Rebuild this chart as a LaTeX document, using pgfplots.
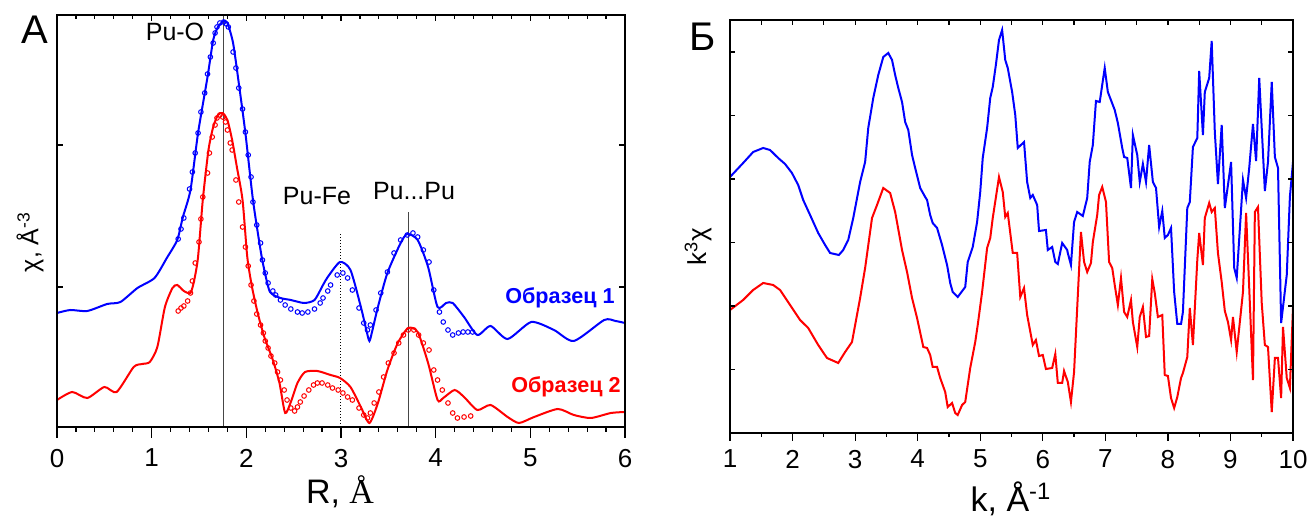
\documentclass[border=0pt]{standalone}
\usepackage{fontspec}
\setmainfont{Liberation Sans}
\newfontfamily\seriffont{Liberation Serif}
\usepackage{pgfplots}
\pgfplotsset{compat=1.18}
\definecolor{cblue}{RGB}{0,0,255}
\definecolor{cred}{RGB}{255,0,0}
\definecolor{vline}{RGB}{70,70,70}
\begin{document}
\begin{tikzpicture}
\useasboundingbox (0,0) rectangle (654.5pt,259pt);
% ---------------- Panel A ----------------
\begin{axis}[at={(28.5pt,45.5pt)}, anchor=south west, scale only axis,
  width=284pt, height=206pt, xmin=0, xmax=6, ymin=0, ymax=412,
  axis line style={line width=0.8pt},
  xtick={0,...,6}, minor x tick num=4, xtick pos=left, ytick=\empty,
  tick align=outside, major tick length=5.5pt, minor tick length=2.5pt,
  tick style={black, line width=0.6pt},
  /pgf/number format/assume math mode=true,
  xticklabel style={font=\fontsize{13}{13}\selectfont, yshift=-2pt},
  clip=false]
\addplot[vline, line width=0.6pt] coordinates {(1.76,0) (1.76,412)};
\addplot[vline, line width=0.6pt] coordinates {(3.71,0) (3.71,215)};
\addplot[black, line width=0.5pt, densely dotted] coordinates {(2.99,0) (2.99,194)};
\addplot[cblue, line width=1pt, smooth, tension=0.4] coordinates {
(0.00,114) (0.14,117) (0.32,116) (0.53,123) (0.67,125) (0.85,139) (1.03,149) (1.16,169) (1.27,187) (1.33,210) (1.41,237) (1.49,294) (1.59,350) (1.65,387) (1.70,400) (1.76,406) (1.80,404) (1.86,384) (1.92,344) (1.99,294) (2.07,227) (2.15,177) (2.19,157) (2.25,135) (2.36,129) (2.47,127) (2.61,124) (2.72,127) (2.81,142) (2.86,150) (2.99,165) (3.10,157) (3.21,120) (3.27,96) (3.30,86) (3.33,96) (3.39,120) (3.49,154) (3.63,184) (3.70,193) (3.81,187) (3.92,160) (4.02,120) (4.11,124) (4.18,124) (4.30,110) (4.44,92) (4.58,101) (4.76,88) (5.01,105) (5.25,97) (5.46,86) (5.78,107) (5.90,106) (6.00,104)};
\addplot[cred, line width=1pt, smooth, tension=0.4] coordinates {
(0.00,27) (0.16,35) (0.32,29) (0.50,40) (0.63,35) (0.81,60) (0.90,63) (0.98,65) (1.06,80) (1.14,120) (1.22,139) (1.27,142) (1.34,136) (1.41,134) (1.45,147) (1.49,170) (1.54,227) (1.60,277) (1.65,300) (1.70,312) (1.75,314) (1.80,307) (1.85,287) (1.90,260) (1.96,227) (2.01,170) (2.06,140) (2.12,114) (2.19,90) (2.28,67) (2.35,44) (2.41,14) (2.47,25) (2.54,44) (2.62,55) (2.75,56) (2.89,52) (2.99,49) (3.10,40) (3.21,20) (3.30,4) (3.39,24) (3.49,57) (3.60,84) (3.71,99) (3.81,95) (3.92,64) (4.02,27) (4.08,29) (4.20,37) (4.30,30) (4.44,17) (4.58,22) (4.76,10) (4.88,4) (5.04,10) (5.29,18) (5.46,12) (5.64,9) (5.85,14) (6.00,15)};
\addplot[cblue, only marks, mark=o, mark size=1.15pt, mark options={line width=0.5pt}] coordinates {
(1.28,188) (1.31,198) (1.34,209) (1.40,238) (1.43,255) (1.46,274) (1.49,294) (1.52,315) (1.56,334) (1.59,353) (1.62,370) (1.65,384) (1.67,394) (1.69,400) (1.72,404) (1.76,405) (1.79,403) (1.81,400) (1.86,375) (1.89,359) (1.92,339) (1.96,318) (1.99,295) (2.02,272) (2.05,250) (2.07,225) (2.11,202) (2.15,184) (2.17,167) (2.20,154) (2.23,144) (2.28,136) (2.31,132) (2.36,127) (2.41,122) (2.47,118) (2.54,115) (2.59,114) (2.65,115) (2.72,118) (2.78,124) (2.81,129) (2.86,136) (2.89,142) (2.96,152) (3.02,154) (3.07,149) (3.12,137) (3.19,119) (3.24,104) (3.28,97) (3.31,102) (3.37,117) (3.42,134) (3.49,155) (3.56,174) (3.63,187) (3.70,192) (3.76,194) (3.81,190) (3.87,177) (3.93,165) (3.98,137) (4.04,115) (4.08,105) (4.13,97) (4.18,92) (4.24,94) (4.29,95) (4.34,95) (4.39,95)};
\addplot[cred, only marks, mark=o, mark size=1.15pt, mark options={line width=0.5pt}] coordinates {
(1.28,116) (1.31,119) (1.34,121) (1.38,126) (1.41,134) (1.43,146) (1.46,164) (1.50,185) (1.52,208) (1.54,230) (1.59,254) (1.61,274) (1.64,290) (1.67,302) (1.69,309) (1.72,312) (1.75,310) (1.78,305) (1.80,297) (1.83,284) (1.85,277) (1.89,247) (1.92,225) (1.96,200) (1.99,180) (2.02,161) (2.05,142) (2.08,126) (2.11,113) (2.15,102) (2.18,94) (2.20,86) (2.23,79) (2.26,71) (2.30,64) (2.33,55) (2.36,47) (2.40,37) (2.43,27) (2.47,19) (2.51,16) (2.54,20) (2.57,25) (2.61,31) (2.66,37) (2.71,42) (2.75,44) (2.80,44) (2.86,42) (2.91,39) (2.97,37) (3.02,34) (3.07,30) (3.12,27) (3.19,19) (3.24,12) (3.28,9) (3.31,14) (3.35,24) (3.40,35) (3.45,50) (3.50,64) (3.56,74) (3.61,84) (3.66,92) (3.71,97) (3.77,97) (3.82,92) (3.87,84) (3.93,77) (3.98,57) (4.02,47) (4.07,37) (4.13,24) (4.18,14) (4.23,9) (4.30,10) (4.37,11)};
\end{axis}
\begin{axis}[at={(28.5pt,45.5pt)}, anchor=south west, scale only axis,
  width=284pt, height=206pt, xmin=0, xmax=6, ymin=0, ymax=412,
  axis line style={line width=0.8pt},
  xtick={0,...,6}, minor x tick num=4, xtick pos=right, xticklabels={},
  ytick={140,282}, yticklabels={}, tick align=inside,
  major tick length=3pt, minor tick length=2pt,
  tick style={black, line width=0.6pt}]
\end{axis}
% ---------------- Panel B ----------------
\begin{axis}[at={(365pt,42.5pt)}, anchor=south west, scale only axis,
  width=281.5pt, height=206.5pt, xmin=1, xmax=10, ymin=0, ymax=413,
  axis line style={line width=0.8pt},
  xtick={1,...,10}, minor x tick num=1, xtick pos=left, ytick=\empty,
  tick align=outside, major tick length=4pt, minor tick length=2pt,
  tick style={black, line width=0.6pt},
  /pgf/number format/assume math mode=true,
  xticklabel style={font=\fontsize{13}{13}\selectfont, yshift=-1pt}]
\addplot[cblue, line width=1pt] coordinates {
(1.00,256) (1.21,270) (1.37,281) (1.53,285) (1.64,283) (1.77,275) (1.88,269) (1.99,260) (2.09,248) (2.17,233) (2.28,218) (2.41,200) (2.52,188) (2.60,180) (2.74,178) (2.81,183) (2.89,193) (2.97,215) (3.08,251) (3.16,271) (3.21,305) (3.29,335) (3.37,358) (3.45,376) (3.53,380) (3.59,373) (3.64,358) (3.69,345) (3.75,331) (3.80,311) (3.85,303) (3.91,278) (3.96,265) (4.04,245) (4.12,236) (4.15,233) (4.20,218) (4.24,210) (4.31,205) (4.39,188) (4.47,168) (4.52,150) (4.56,141) (4.64,136) (4.76,146) (4.80,171) (4.88,186) (4.95,211) (5.00,241) (5.04,275) (5.11,305) (5.16,335) (5.20,346) (5.25,368) (5.30,393) (5.35,403) (5.40,373) (5.44,365) (5.51,341) (5.56,318) (5.60,285) (5.70,291) (5.75,251) (5.80,235) (5.84,238) (5.91,228) (5.94,202) (6.05,203) (6.08,183) (6.15,186) (6.20,171) (6.24,169) (6.31,190) (6.39,183) (6.40,180) (6.45,168) (6.50,211) (6.55,221) (6.64,217) (6.71,235) (6.75,271) (6.80,288) (6.85,332) (6.91,331) (6.99,365) (7.04,341) (7.15,323) (7.20,310) (7.27,285) (7.30,276) (7.35,275) (7.41,245) (7.44,298) (7.51,278) (7.55,251) (7.60,269) (7.65,251) (7.70,288) (7.76,251) (7.81,245) (7.86,206) (7.91,222) (7.95,195) (8.00,198) (8.05,205) (8.10,141) (8.15,109) (8.21,109) (8.24,121) (8.31,225) (8.35,231) (8.40,286) (8.47,295) (8.50,362) (8.56,298) (8.59,341) (8.66,355) (8.70,392) (8.75,301) (8.80,249) (8.86,308) (8.91,225) (9.01,271) (9.06,165) (9.10,155) (9.20,253) (9.25,235) (9.30,265) (9.36,309) (9.41,272) (9.46,355) (9.55,242) (9.60,271) (9.66,351) (9.71,276) (9.76,265) (9.81,110) (9.90,158) (9.95,236) (10.00,271)};
\addplot[cred, line width=1pt] coordinates {
(1.00,123) (1.21,133) (1.37,143) (1.53,150) (1.69,148) (1.80,143) (1.96,128) (2.12,113) (2.25,105) (2.41,88) (2.55,75) (2.73,70) (2.84,81) (2.95,91) (3.08,135) (3.16,165) (3.27,215) (3.35,228) (3.45,245) (3.56,240) (3.64,221) (3.75,183) (3.83,161) (3.91,135) (3.99,115) (4.09,86) (4.15,85) (4.20,78) (4.24,66) (4.31,66) (4.36,55) (4.44,41) (4.48,26) (4.55,30) (4.60,20) (4.64,18) (4.71,28) (4.76,31) (4.84,65) (4.92,91) (4.96,108) (5.03,141) (5.11,185) (5.16,195) (5.20,215) (5.30,256) (5.36,241) (5.40,216) (5.44,220) (5.52,180) (5.59,180) (5.64,136) (5.70,145) (5.75,118) (5.84,88) (5.89,93) (5.94,77) (6.00,78) (6.05,64) (6.15,65) (6.20,79) (6.24,50) (6.31,50) (6.34,62) (6.40,51) (6.45,31) (6.50,61) (6.55,125) (6.61,201) (6.66,171) (6.71,161) (6.77,170) (6.80,191) (6.87,218) (6.90,238) (6.95,246) (7.01,231) (7.06,171) (7.11,165) (7.15,148) (7.20,128) (7.25,155) (7.30,121) (7.35,116) (7.41,133) (7.44,111) (7.51,86) (7.55,116) (7.60,126) (7.65,96) (7.70,97) (7.75,154) (7.79,140) (7.84,116) (7.91,118) (7.95,58) (8.00,57) (8.05,35) (8.10,25) (8.15,36) (8.21,55) (8.24,60) (8.31,76) (8.35,125) (8.40,88) (8.47,173) (8.50,200) (8.56,168) (8.59,215) (8.66,230) (8.70,221) (8.75,225) (8.80,180) (8.86,151) (8.91,122) (8.96,111) (9.01,93) (9.04,116) (9.10,81) (9.15,111) (9.20,141) (9.25,220) (9.30,145) (9.36,53) (9.39,221) (9.44,226) (9.50,130) (9.55,88) (9.60,86) (9.66,21) (9.71,75) (9.76,75) (9.81,35) (9.84,106) (9.90,55) (9.95,45) (10.00,126)};
\end{axis}
\begin{axis}[at={(365pt,42.5pt)}, anchor=south west, scale only axis,
  width=281.5pt, height=206.5pt, xmin=1, xmax=10, ymin=0, ymax=413,
  axis line style={line width=0.8pt},
  xtick={1,...,10}, minor x tick num=1, xtick pos=right, xticklabels={},
  ytick={63.5,127,190.5,254,317.5,381}, yticklabels={}, tick align=inside,
  major tick length=2.5pt, minor tick length=2.5pt,
  tick style={black, line width=0.6pt}]
\end{axis}
% ---------------- Text ----------------
\node[font=\fontsize{20}{20}\selectfont] at (17.5pt,244pt) {A};
\node[font=\fontsize{20}{20}\selectfont] at (351.5pt,240.5pt) {Б};
\node[font=\fontsize{12.5}{12.5}\selectfont] at (87.5pt,243pt) {Pu-O};
\node[font=\fontsize{12.5}{12.5}\selectfont] at (158.5pt,161pt) {Pu-Fe};
\node[font=\fontsize{12.5}{12.5}\selectfont] at (207pt,163.5pt) {Pu...Pu};
\node[font=\bfseries\fontsize{10.8}{10.8}\selectfont, text=cblue] at (280pt,110pt) {Образец 1};
\node[font=\bfseries\fontsize{10.8}{10.8}\selectfont, text=cred] at (283pt,65.5pt) {Образец 2};
\node[anchor=base, font=\fontsize{17}{17}\selectfont] at (170pt,7pt) {R, {\seriffont Å}};
\node[anchor=base, font=\fontsize{17}{17}\selectfont] at (505.5pt,3pt) {k, Å\textsuperscript{-1}};
\node[rotate=90, font=\fontsize{12.5}{12.5}\selectfont] at (15pt,138pt) {χ, Å\textsuperscript{-3}};
\node[rotate=90, font=\fontsize{13}{13}\selectfont] at (349pt,135.5pt) {k\textsuperscript{3}χ};
\end{tikzpicture}
\end{document}
